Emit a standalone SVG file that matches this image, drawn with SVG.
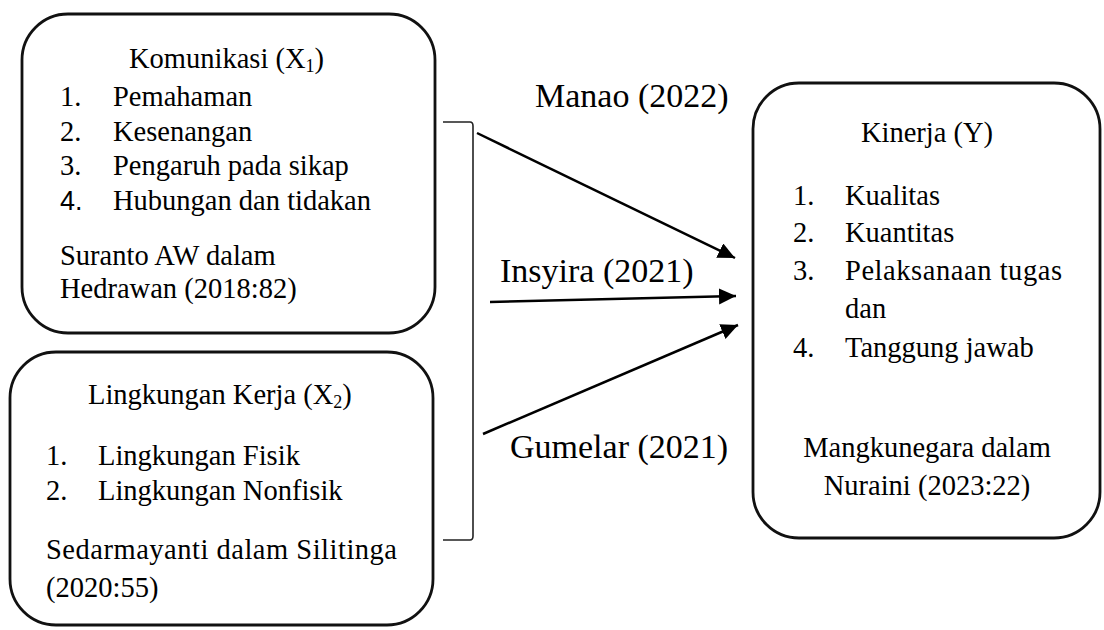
<svg xmlns="http://www.w3.org/2000/svg" width="1104" height="630" viewBox="0 0 1104 630">
<defs>
<style>
.box{fill:#fff;stroke:#111;stroke-width:2.8}
.t{font-family:"Liberation Serif","Times New Roman",serif;font-size:28.5px;fill:#000}
.lbl{font-family:"Liberation Serif","Times New Roman",serif;font-size:34px;fill:#000}
.c{fill:none;stroke:#000;stroke-width:2.5}
.br{fill:none;stroke:#222;stroke-width:1.6}
</style>
<marker id="ah" markerUnits="userSpaceOnUse" markerWidth="20" markerHeight="18" refX="17" refY="8" orient="auto">
<path d="M0,0 L17,8 L0,16 z" fill="#000"/>
</marker>
</defs>
<rect width="1104" height="630" fill="#fff"/>

<g id="node-komunikasi">
<rect class="box" x="22" y="14" width="413" height="319" rx="46" ry="46"/>
<text class="t" x="129" y="68">Komunikasi (X<tspan font-size="18" dy="4">1</tspan><tspan dy="-4">)</tspan></text>
<text class="t" x="60" y="106">1.</text><text class="t" x="113" y="106">Pemahaman</text>
<text class="t" x="60" y="141">2.</text><text class="t" x="113" y="141">Kesenangan</text>
<text class="t" x="60" y="175">3.</text><text class="t" x="113" y="175">Pengaruh pada sikap</text>
<text class="t" x="60" y="210" style="font-family:'Liberation Sans',Arial,sans-serif;font-size:27px">4.</text><text class="t" x="113" y="210">Hubungan dan tidakan</text>
<text class="t" x="60" y="265">Suranto AW dalam</text>
<text class="t" x="60" y="298">Hedrawan (2018:82)</text>
</g>

<g id="node-lingkungan">
<rect class="box" x="10" y="352" width="423" height="273" rx="46" ry="46"/>
<text class="t" x="88" y="404">Lingkungan Kerja (X<tspan font-size="18" dy="4">2</tspan><tspan dy="-4">)</tspan></text>
<text class="t" x="46" y="465">1.</text><text class="t" x="98" y="465">Lingkungan Fisik</text>
<text class="t" x="46" y="500">2.</text><text class="t" x="98" y="500">Lingkungan Nonfisik</text>
<text class="t" x="46" y="559" textLength="351" lengthAdjust="spacing">Sedarmayanti dalam Silitinga</text>
<text class="t" x="46" y="597">(2020:55)</text>
</g>

<g id="node-kinerja">
<rect class="box" x="753" y="83" width="347" height="455" rx="46" ry="46"/>
<text class="t" x="927" y="142" text-anchor="middle">Kinerja (Y)</text>
<text class="t" x="793" y="205">1.</text><text class="t" x="845" y="205">Kualitas</text>
<text class="t" x="793" y="242">2.</text><text class="t" x="845" y="242">Kuantitas</text>
<text class="t" x="793" y="280">3.</text><text class="t" x="845" y="280" textLength="217" lengthAdjust="spacing">Pelaksanaan  tugas</text>
<text class="t" x="845" y="318">dan</text>
<text class="t" x="793" y="357">4.</text><text class="t" x="845" y="357">Tanggung jawab</text>
<text class="t" x="927" y="457" text-anchor="middle">Mangkunegara dalam</text>
<text class="t" x="927" y="495" text-anchor="middle">Nuraini (2023:22)</text>
</g>

<g id="connectors">
<path class="br" d="M443,122 L470,122 Q473,122 473,126 L473,536 Q473,540 470,540 L443,540"/>
<line class="c" x1="477" y1="133" x2="735" y2="258" marker-end="url(#ah)"/>
<line class="c" x1="490" y1="302" x2="736" y2="296" marker-end="url(#ah)"/>
<line class="c" x1="483" y1="434" x2="738" y2="325" marker-end="url(#ah)"/>
<text class="lbl" x="535" y="107">Manao (2022)</text>
<text class="lbl" x="500" y="282">Insyira (2021)</text>
<text class="lbl" x="510" y="458">Gumelar (2021)</text>
</g>
</svg>
